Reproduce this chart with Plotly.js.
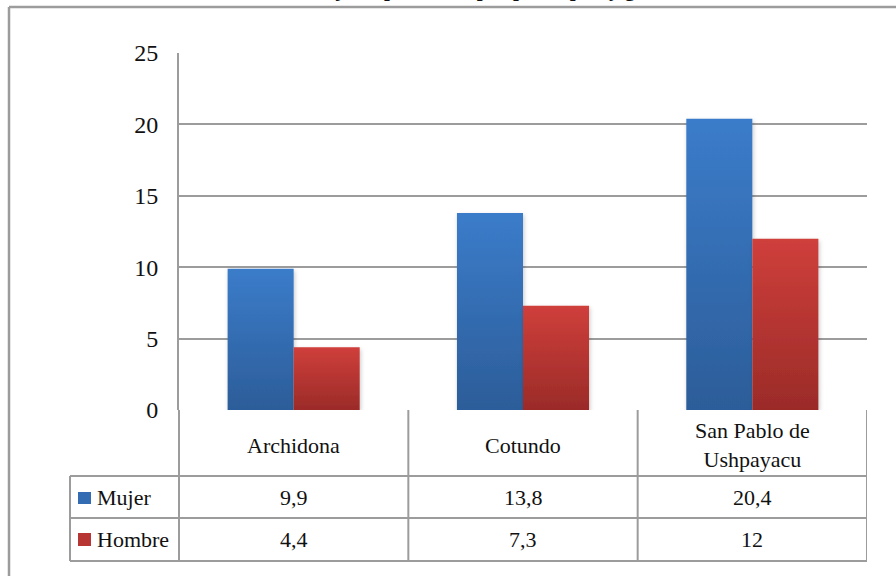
<!DOCTYPE html>
<html>
<head>
<meta charset="utf-8">
<script src="https://cdn.plot.ly/plotly-3.0.1.min.js"></script>
<style>
  html, body { margin: 0; padding: 0; background: #ffffff; }
  #chart { width: 896px; height: 576px; }
</style>
</head>
<body>
<div id="chart"></div>
<script>
// ---- data ----
const titleText = 'Porcentaje de población por parroquia y género';
const categories = ['Archidona', 'Cotundo', 'San Pablo de Ushpayacu'];
const categoryLabels = ['Archidona', 'Cotundo', 'San Pablo de<br>Ushpayacu'];
const seriesNames = ['Mujer', 'Hombre'];
const mujer = [9.9, 13.8, 20.4];
const hombre = [4.4, 7.3, 12];
const yTicks = [0, 5, 10, 15, 20, 25];

// ---- helpers (pixel geometry of plot: y0 at 410px, 25 at 53px) ----
const PLOT_TOP = 53, PLOT_BOTTOM = 410, PLOT_LEFT = 179, PLOT_RIGHT = 867;
const PH = PLOT_BOTTOM - PLOT_TOP, PW = PLOT_RIGHT - PLOT_LEFT;
const py = p => (PLOT_BOTTOM - p) / PH;   // pixel row -> paper y
const px = p => (p - PLOT_LEFT) / PW;     // pixel col -> paper x
const fmt = v => String(v).replace('.', ',');

const FONT = "'Liberation Serif', serif";
const GRID = '#9c9c9c';
const TXT = '#111111';

const colors = ['#346cb3', '#b73532'];

const data = [
  { type: 'bar', name: seriesNames[0], x: categories, y: mujer, marker: { color: colors[0], line: { width: 0 } }, hoverinfo: 'none' },
  { type: 'bar', name: seriesNames[1], x: categories, y: hombre, marker: { color: colors[1], line: { width: 0 } }, hoverinfo: 'none' }
];

const shapes = [];
const annotations = [];
const line = (xref, x0, x1, yref, y0, y1, w) => shapes.push({
  type: 'line', xref, yref, x0, x1, y0, y1, layer: 'above',
  line: { color: GRID, width: w || 2 }
});

// outer frame (left + top)
line('paper', px(9), px(9), 'paper', py(7), py(600), 2.5);
line('paper', px(9), px(920), 'paper', py(7), py(7), 2.5);

// data table
const rowTop = py(476), rowMid = py(518), rowBot = py(561);
const n = categories.length;
for (let i = 0; i <= n; i++) {
  const xv = i - 0.5;
  line('x', xv, xv, 'paper', 0, rowBot);
}
line('paper', 0, 0, 'paper', 0, rowBot);
line('paper', px(70), px(70), 'paper', rowTop, rowBot);
[rowTop, rowMid, rowBot].forEach(y => line('paper', px(70), 1, 'paper', y, y));

// category labels
categoryLabels.forEach((c, i) => annotations.push({
  xref: 'x', yref: 'paper', x: categories[i], y: py(445), text: c,
  showarrow: false, xanchor: 'center', yanchor: 'middle',
  font: { family: FONT, size: 22, color: TXT }
}));

// value rows
const rows = [mujer, hombre];
const rowCenters = [497, 539];
const keyBoxes = [[492, 504], [533, 546]];
rows.forEach((vals, r) => {
  vals.forEach((v, i) => annotations.push({
    xref: 'x', yref: 'paper', x: categories[i], y: py(rowCenters[r]), text: fmt(v),
    showarrow: false, xanchor: 'center', yanchor: 'middle',
    font: { family: FONT, size: 22, color: TXT }
  }));
  annotations.push({
    xref: 'paper', yref: 'paper', x: px(95), y: py(rowCenters[r]), text: seriesNames[r],
    showarrow: false, xanchor: 'left', yanchor: 'middle',
    font: { family: FONT, size: 22, color: TXT }
  });
  shapes.push({
    type: 'rect', xref: 'paper', yref: 'paper', layer: 'above',
    x0: px(78), x1: px(91), y0: py(keyBoxes[r][0]), y1: py(keyBoxes[r][1]),
    fillcolor: colors[r], line: { width: 0 }
  });
});

// title (mostly cut off at the top, as in the reference)
annotations.push({
  xref: 'paper', yref: 'paper', x: px(470), y: py(2.5), text: '<b>' + titleText + '</b>',
  showarrow: false, xanchor: 'center', yanchor: 'bottom',
  font: { family: FONT, size: 21, color: TXT }
});

const layout = {
  width: 896, height: 576,
  margin: { l: PLOT_LEFT, r: 896 - PLOT_RIGHT, t: PLOT_TOP, b: 576 - PLOT_BOTTOM, pad: 0 },
  paper_bgcolor: '#ffffff', plot_bgcolor: '#ffffff',
  showlegend: false,
  barmode: 'group', bargap: 0.424, bargroupgap: 0,
  font: { family: FONT, color: TXT },
  xaxis: { type: 'category', range: [-0.5, n - 0.5], showticklabels: false, showgrid: false, zeroline: false, showline: false, ticks: '', fixedrange: true },
  yaxis: {
    range: [0, 25], tickvals: yTicks, ticktext: yTicks.map(String),
    showgrid: true, gridcolor: GRID, gridwidth: 2,
    zeroline: false, showline: true, linecolor: GRID, linewidth: 2,
    ticks: 'outside', ticklen: 14, tickcolor: 'rgba(0,0,0,0)',
    tickfont: { family: FONT, size: 24, color: TXT }, fixedrange: true
  },
  shapes, annotations
};

Plotly.newPlot('chart', data, layout, { staticPlot: true, displayModeBar: false }).then(gd => {
  const svg = gd.querySelector('.main-svg');
  const ns = 'http://www.w3.org/2000/svg';
  let defs = svg.querySelector('defs');
  if (!defs) { defs = document.createElementNS(ns, 'defs'); svg.insertBefore(defs, svg.firstChild); }
  const grad = (id, top, bottom) => {
    const g = document.createElementNS(ns, 'linearGradient');
    g.setAttribute('id', id); g.setAttribute('x1', '0'); g.setAttribute('y1', '0');
    g.setAttribute('x2', '0'); g.setAttribute('y2', '1');
    [[0, top], [1, bottom]].forEach(([o, c]) => {
      const s = document.createElementNS(ns, 'stop');
      s.setAttribute('offset', o); s.setAttribute('stop-color', c);
      g.appendChild(s);
    });
    defs.appendChild(g);
  };
  grad('gBlue', '#3b7cca', '#2c5d99');
  grad('gRed', '#cf3f3b', '#9b2b28');
  const f = document.createElementNS(ns, 'filter');
  f.setAttribute('id', 'barShadow'); f.setAttribute('x', '-20%'); f.setAttribute('y', '-5%');
  f.setAttribute('width', '140%'); f.setAttribute('height', '115%');
  const ds = document.createElementNS(ns, 'feDropShadow');
  ds.setAttribute('dx', '1'); ds.setAttribute('dy', '2'); ds.setAttribute('stdDeviation', '2');
  ds.setAttribute('flood-color', '#000'); ds.setAttribute('flood-opacity', '0.22');
  f.appendChild(ds); defs.appendChild(f);
  const ids = ['gBlue', 'gRed'];
  gd.querySelectorAll('.barlayer .trace').forEach((t, i) => {
    t.querySelectorAll('path').forEach(p => {
      p.style.fill = 'url(#' + ids[i] + ')';
      p.setAttribute('filter', 'url(#barShadow)');
    });
  });
});
</script>
</body>
</html>
